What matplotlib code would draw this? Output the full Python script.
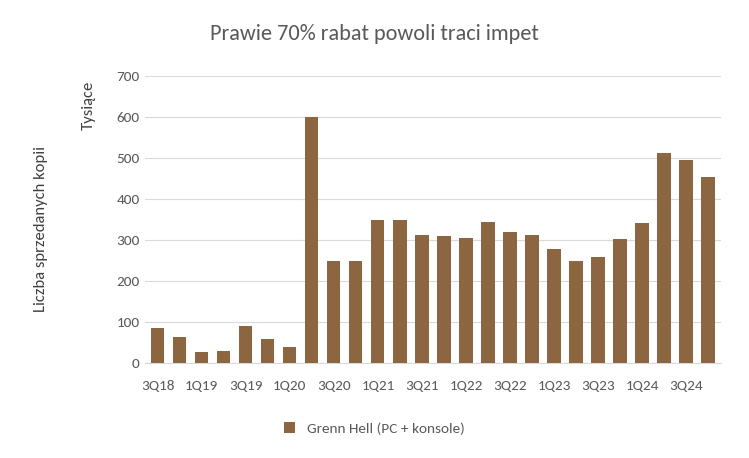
import matplotlib.pyplot as plt

quarters = ["3Q18","4Q18","1Q19","2Q19","3Q19","4Q19","1Q20","2Q20","3Q20","4Q20",
            "1Q21","2Q21","3Q21","4Q21","1Q22","2Q22","3Q22","4Q22","1Q23","2Q23",
            "3Q23","4Q23","1Q24","2Q24","3Q24","4Q24"]
values = [85,65,28,30,90,60,40,600,250,250,350,350,312,310,305,345,320,312,278,248,
          260,302,342,513,496,455]
series_name = "Grenn Hell (PC + konsole)"

plt.rcParams['font.family'] = ['Calibri', 'Carlito', 'Open Sans', 'DejaVu Sans']
fig = plt.figure(figsize=(7.49, 4.58), dpi=100)
ax = fig.add_axes([0.193, 0.207, 0.77, 0.627])
x = range(len(values))
ax.bar(x, values, width=0.6, color='#8B6640', label=series_name, zorder=3)
ax.set_xlim(-0.6, len(values) - 0.4)
ax.set_ylim(0, 700)
ax.set_yticks(range(0, 701, 100))
ax.set_xticks(list(x)[::2])
ax.set_xticklabels(quarters[::2])
ax.grid(axis='y', color='#d9d9d9', lw=0.8, zorder=0)
for s in ['top', 'right', 'left']:
    ax.spines[s].set_visible(False)
ax.spines['bottom'].set_color('#d9d9d9')
ax.tick_params(length=0, labelsize=11, colors='#595959')
ax.tick_params(axis='x', pad=12)
fig.text(0.5, 0.925, "Prawie 70% rabat powoli traci impet", ha='center', va='center',
         fontsize=16, color='#595959')
fig.text(0.055, 0.5, "Liczba sprzedanych kopii", rotation=90, ha='center', va='center',
         fontsize=12, color='#404040')
fig.text(0.118, 0.77, "Tysiące", rotation=90, ha='center', va='center',
         fontsize=12, color='#404040')
fig.legend(loc='center', bbox_to_anchor=(0.5, 0.065), frameon=False, fontsize=11,
           handlelength=0.7, handleheight=0.7, labelcolor='#595959')
fig.savefig('out.png', dpi=100)
